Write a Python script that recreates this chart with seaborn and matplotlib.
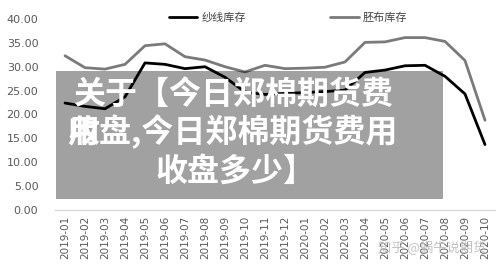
import matplotlib
matplotlib.use("Agg")
import matplotlib.pyplot as plt
from matplotlib.patches import Rectangle
from matplotlib.ticker import FormatStrFormatter
from matplotlib.lines import Line2D
import seaborn as sns
import pandas as pd

months = ["2019-01", "2019-02", "2019-03", "2019-04", "2019-05", "2019-06",
          "2019-07", "2019-08", "2019-09", "2019-10", "2019-11", "2019-12",
          "2020-01", "2020-02", "2020-03", "2020-04", "2020-05", "2020-06",
          "2020-07", "2020-08", "2020-09", "2020-10"]
yarn = [22.4, 21.7, 21.2, 23.7, 30.8, 30.5, 29.6, 30.0, 27.8, 24.7, 24.2, 24.4,
        24.6, 24.8, 25.1, 28.8, 29.3, 30.2, 30.3, 28.0, 24.3, 13.7]
fabric = [32.3, 29.8, 29.5, 30.5, 34.4, 34.8, 32.1, 31.4, 30.0, 28.9, 30.3, 29.6,
          29.7, 29.9, 31.0, 35.1, 35.2, 36.1, 36.1, 35.3, 31.3, 18.8]
series_names = ["纱线库存", "胚布库存"]
title_lines = ["关于【今日郑棉期货费", "用收盘,今日郑棉期货费用", "收盘多少】"]
watermark = "知乎 @蜗牛说期货"

df = pd.DataFrame({
    "month": months * 2,
    "value": yarn + fabric,
    "series": [series_names[0]] * len(months) + [series_names[1]] * len(months),
})

sns.set_theme(style="white")
plt.rcParams["font.family"] = ["Noto Sans CJK SC", "DejaVu Sans"]

fig = plt.figure(figsize=(5.0, 2.71), dpi=100)
ax = fig.add_axes([0.11, 0.225, 0.88, 0.705])

sns.lineplot(data=df, x="month", y="value", hue="series", sort=False,
             palette={series_names[0]: "#000000", series_names[1]: "#7a7a7a"},
             linewidth=2.0, ax=ax, legend=False)

ax.set_xlim(-0.5, len(months) - 0.5)
ax.set_ylim(0, 40)
ax.set_yticks(range(0, 41, 5))
ax.yaxis.set_major_formatter(FormatStrFormatter("%.2f"))
ax.set_xticks(range(len(months)))
ax.set_xticklabels(months, rotation=90, fontsize=7.5, color="#595959",
                   family="DejaVu Sans")
for t in ax.get_yticklabels():
    t.set_fontsize(8)
    t.set_color("#595959")
    t.set_family("DejaVu Sans")
ax.tick_params(axis="both", length=0, pad=4)
ax.tick_params(axis="y", pad=12)
ax.set_xlabel("")
ax.set_ylabel("")
for s in ["top", "right", "left"]:
    ax.spines[s].set_visible(False)
ax.spines["bottom"].set_color("#d9d9d9")
ax.spines["bottom"].set_linewidth(1.0)

# legend
handles = [Line2D([], [], color="#000000", lw=2.0),
           Line2D([], [], color="#7a7a7a", lw=2.0)]
fig.legend(handles, series_names, loc="center", bbox_to_anchor=(0.576, 0.934),
           ncol=2, frameon=False, fontsize=8, columnspacing=7.5,
           handlelength=2.6, handletextpad=0.4, labelcolor="#404040")

# overlay box with title
fig.patches.append(Rectangle((0.112, 0.266), 0.774, 0.472, transform=fig.transFigure,
                             facecolor="#000000", alpha=0.37, edgecolor="none",
                             zorder=5))
fig.text(0.466, 0.651, title_lines[0], ha="center", va="center", color="white",
         fontsize=23, fontweight="heavy", zorder=6)
fig.text(0.134, 0.513, title_lines[1][1:], ha="left", va="center", color="white",
         fontsize=23, fontweight="heavy", zorder=6)
fig.text(0.134, 0.513, title_lines[1][0], ha="left", va="center", color="white",
         fontsize=23, fontweight="heavy", zorder=6)
fig.text(0.47, 0.365, title_lines[2], ha="center", va="center", color="white",
         fontsize=23, fontweight="heavy", zorder=6)

fig.text(0.865, 0.085, watermark, ha="center", va="center", color="#bdbdbd",
         fontsize=9.5, alpha=0.9, zorder=6)

fig.savefig("out.png", dpi=100)
